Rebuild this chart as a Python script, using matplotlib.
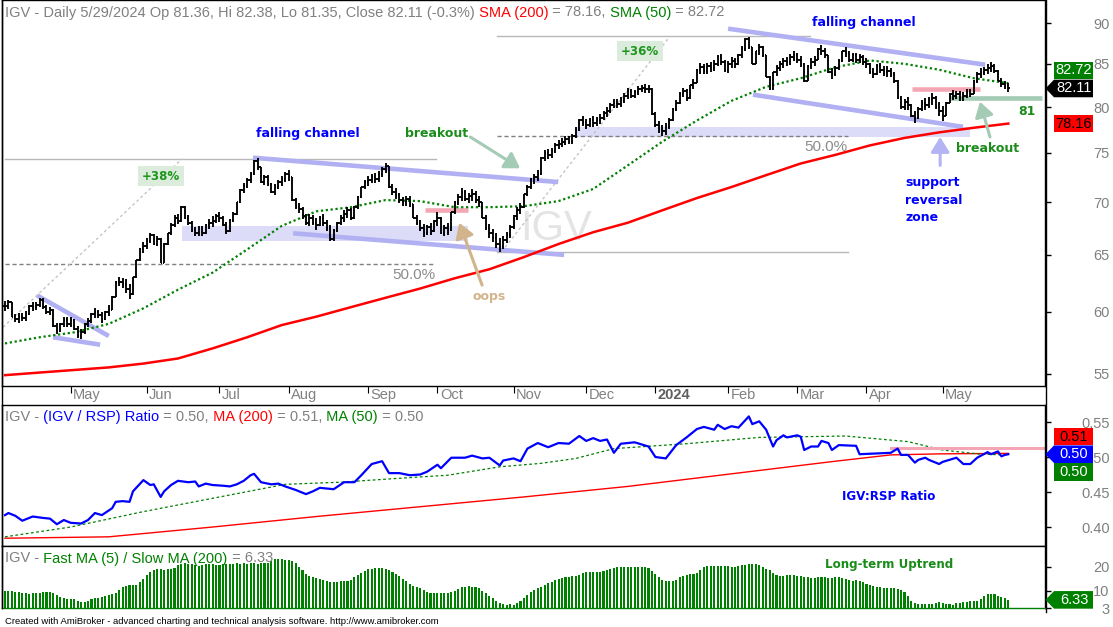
import numpy as np
import pandas as pd
import matplotlib
matplotlib.use("Agg")
import matplotlib.pyplot as plt
import matplotlib.transforms as mtransforms
from matplotlib.collections import LineCollection
from matplotlib.lines import Line2D
from matplotlib.patches import Polygon, Rectangle

########## DATA ##########

holidays = ["2023-04-07", "2023-05-29", "2023-06-19", "2023-07-04", "2023-09-04",
            "2023-11-23", "2023-12-25", "2024-01-01", "2024-01-15", "2024-02-19",
            "2024-03-29", "2024-05-27"]

# daily closes, one row per month (Apr 2023 .. May 2024)
closes = [
    60.5, 60.8, 59.6, 59.4, 59.6, 59.5, 59.8, 60.5, 60.4, 60.6, 61.0, 60.4, 60.0, 60.2, 58.8, 58.4, 59.0, 59.3, 59.0,
    59.3, 58.6, 58.0, 58.3, 59.0, 59.2, 59.8, 60.0, 59.7, 59.4, 60.0, 60.2, 61.3, 62.6, 62.6, 62.4, 62.0, 61.5, 63.0, 64.5, 65.5, 65.8,
    66.3, 66.8, 66.0, 66.5, 64.3, 66.0, 67.0, 67.8, 68.5, 68.2, 69.5, 68.5, 68.0, 67.3, 67.0, 67.4, 67.0, 67.8, 68.0, 68.2, 68.6,
    68.5, 67.8, 67.2, 68.3, 68.8, 70.0, 71.2, 71.6, 72.2, 72.8, 74.2, 73.5, 72.0, 72.5, 71.8, 71.0, 71.5, 72.0, 72.3, 72.8,
    72.5, 70.2, 69.5, 69.3, 68.6, 68.0, 68.5, 68.0, 67.8, 68.5, 68.0, 67.5, 66.5, 67.2, 68.0, 68.5, 68.8, 69.2, 68.5, 69.5, 70.5, 71.5, 72.0,
    72.2, 72.5, 72.3, 72.8, 73.3, 73.6, 71.5, 71.0, 70.7, 70.2, 70.0, 70.3, 69.8, 68.5, 68.0, 67.5, 67.0, 67.6, 67.2, 68.2,
    68.5, 67.0, 67.5, 67.3, 69.0, 70.0, 70.5, 71.0, 70.3, 70.6, 70.8, 70.2, 70.0, 68.5, 67.5, 67.0, 66.6, 66.0, 65.8, 66.4, 66.8, 67.6,
    68.6, 69.2, 69.5, 70.8, 71.5, 72.2, 72.5, 72.8, 74.5, 75.0, 74.8, 75.2, 75.8, 76.0, 76.2, 76.5, 76.2, 76.8, 77.5, 78.5, 78.3,
    78.0, 78.5, 78.2, 78.6, 78.8, 79.3, 79.6, 80.2, 80.5, 80.3, 80.8, 81.3, 81.8, 81.2, 81.7, 82.0, 82.2, 82.0, 82.1, 79.2,
    78.0, 77.6, 77.3, 77.8, 78.5, 79.8, 80.5, 81.5, 81.8, 81.0, 82.5, 82.8, 84.3, 84.6, 84.2, 84.8, 84.5, 85.0, 85.8, 85.2, 84.3,
    85.0, 85.3, 85.0, 86.0, 86.8, 88.0, 87.0, 85.0, 86.5, 87.0, 86.0, 83.5, 82.0, 84.0, 84.5, 85.0, 85.3, 85.2, 85.8, 86.0,
    85.5, 85.0, 83.0, 84.8, 85.2, 85.5, 86.8, 86.5, 86.0, 84.0, 83.8, 84.5, 85.3, 86.5, 86.3, 85.5, 86.0, 85.5, 85.8, 85.2,
    85.0, 84.0, 83.8, 84.8, 84.3, 84.0, 84.2, 83.8, 83.0, 81.0, 80.0, 80.6, 80.2, 79.0, 78.8, 79.8, 80.5, 80.2, 80.8, 81.0, 80.0, 79.5,
    79.0, 80.5, 81.5, 81.2, 81.5, 81.0, 81.3, 81.7, 81.5, 83.0, 83.8, 84.0, 84.3, 84.5, 84.7, 84.2, 83.0, 82.6, 82.4, 82.11,
]

# high - low of each bar
spreads = [
    0.9, 0.8, 1.0, 0.7, 0.8, 0.7, 0.8, 0.9, 0.8, 0.7, 0.8, 0.9, 0.8, 0.7, 1.1, 0.9, 0.8, 0.9, 0.8,
    0.8, 0.9, 1.0, 0.8, 0.9, 0.7, 0.8, 0.8, 0.7, 0.9, 0.8, 0.9, 1.2, 1.0, 0.8, 0.9, 1.2, 1.3, 1.4, 1.3, 1.2, 1.0,
    1.0, 0.9, 1.0, 0.9, 1.8, 1.3, 1.0, 1.2, 1.1, 1.0, 1.5, 1.2, 1.0, 1.0, 0.9, 0.9, 0.9, 1.0, 0.9, 1.0, 0.9,
    0.9, 1.0, 1.1, 1.2, 1.0, 1.3, 1.2, 1.0, 1.0, 1.1, 1.4, 1.2, 1.3, 1.0, 1.1, 1.0, 1.1, 0.9, 1.0, 1.0,
    1.1, 1.6, 1.1, 1.0, 1.1, 1.0, 1.2, 1.0, 1.1, 1.0, 1.1, 1.0, 1.5, 1.1, 1.0, 1.0, 1.1, 1.0, 1.1, 1.2, 1.3, 1.1, 1.0,
    1.0, 0.9, 1.0, 1.1, 1.0, 1.0, 1.4, 1.1, 1.0, 1.0, 0.9, 1.0, 1.1, 1.2, 1.0, 1.1, 1.2, 1.0, 1.1, 1.2,
    1.3, 1.4, 1.1, 1.2, 1.6, 1.3, 1.1, 1.2, 1.1, 1.0, 1.1, 1.2, 1.1, 1.5, 1.4, 1.3, 1.2, 1.4, 1.3, 1.2, 1.1, 1.2,
    1.3, 1.2, 1.1, 1.3, 1.1, 1.2, 1.0, 1.1, 1.5, 1.2, 1.0, 1.0, 1.1, 0.9, 1.0, 1.0, 0.9, 1.0, 1.2, 1.3, 1.1,
    1.1, 1.0, 1.2, 1.0, 1.1, 1.0, 1.1, 1.2, 1.0, 1.1, 1.2, 1.1, 1.2, 1.0, 0.9, 1.0, 0.9, 1.0, 0.9, 1.9,
    1.6, 1.3, 1.2, 1.3, 1.2, 1.4, 1.2, 1.3, 1.1, 1.4, 1.3, 1.2, 1.6, 1.3, 1.2, 1.3, 1.2, 1.3, 1.4, 1.3, 1.5,
    1.4, 1.3, 1.2, 1.3, 1.4, 1.6, 1.5, 1.8, 1.5, 1.3, 1.4, 2.0, 1.6, 1.5, 1.3, 1.2, 1.2, 1.1, 1.3, 1.2,
    1.2, 1.3, 2.2, 1.5, 1.3, 1.2, 1.4, 1.3, 1.2, 1.6, 1.3, 1.2, 1.3, 1.4, 1.2, 1.3, 1.1, 1.2, 1.1, 1.2,
    1.2, 1.3, 1.2, 1.3, 1.2, 1.1, 1.2, 1.1, 1.3, 1.9, 1.4, 1.3, 1.4, 1.5, 1.4, 1.3, 1.2, 1.3, 1.2, 1.3, 1.4, 1.6,
    1.7, 1.4, 1.2, 1.1, 1.0, 1.1, 1.0, 1.0, 1.0, 1.3, 1.2, 1.1, 1.0, 1.1, 1.2, 1.1, 1.3, 1.0, 1.0, 1.03,
]

# moving averages, sampled every 10 bars
ma_days = [0, 10, 20, 30, 40, 50, 60, 70, 80, 90, 100, 110, 120, 130, 140,
           150, 160, 170, 180, 190, 200, 210, 220, 230, 240, 250, 260, 270, 280, 290]
sma200 = [54.9, 55.1, 55.3, 55.5, 55.8, 56.2, 57.0, 57.9, 58.9, 59.6, 60.4, 61.2, 62.0, 62.9, 63.7,
          64.8, 66.0, 67.1, 68.0, 69.2, 70.4, 71.5, 72.7, 73.9, 74.8, 75.8, 76.6, 77.2, 77.7, 78.16]
sma50 = [57.4, 57.9, 58.3, 59.0, 60.3, 61.9, 63.4, 65.5, 67.7, 69.1, 69.5, 70.2, 70.1, 69.5, 69.5,
         69.6, 70.1, 71.3, 73.7, 76.2, 78.5, 80.7, 82.3, 83.3, 84.6, 85.4, 85.0, 84.3, 83.3, 82.72]

# IGV / RSP ratio
ratio_days = [0, 1, 3, 5, 8, 11, 13, 15, 17, 19, 22, 24, 26, 28, 31, 32, 34, 36, 37, 40,
              42, 43, 45, 46, 48, 50, 53, 55, 56, 58, 60, 63, 65, 67, 69, 71, 72, 74, 77, 79,
              81, 84, 87, 89, 91, 95, 98, 101, 103, 106, 109, 111, 114, 117, 120, 122, 125, 126, 129, 133,
              135, 138, 140, 143, 144, 147, 149, 151, 154, 157, 160, 163, 166, 168, 170, 172, 174, 176, 178, 182,
              186, 188, 191, 194, 197, 200, 202, 205, 206, 208, 210, 212, 215, 216, 218, 220, 222, 223, 225, 226,
              229, 230, 231, 233, 235, 236, 238, 239, 241, 246, 247, 256, 258, 259, 261, 263, 264, 266, 267, 270,
              271, 275, 277, 279, 281, 284, 285, 287, 288, 289, 290]
ratio_vals = [0.417, 0.420, 0.416, 0.409, 0.415, 0.413, 0.412, 0.404, 0.410, 0.406, 0.405, 0.410, 0.420, 0.417, 0.427, 0.436, 0.437, 0.436, 0.451, 0.467,
              0.460, 0.461, 0.443, 0.451, 0.460, 0.466, 0.464, 0.465, 0.458, 0.462, 0.460, 0.459, 0.458, 0.461, 0.466, 0.474, 0.476, 0.464, 0.461, 0.462,
              0.458, 0.453, 0.447, 0.451, 0.456, 0.454, 0.464, 0.464, 0.474, 0.490, 0.494, 0.477, 0.477, 0.474, 0.475, 0.479, 0.489, 0.484, 0.499, 0.499,
              0.502, 0.498, 0.499, 0.488, 0.495, 0.498, 0.494, 0.512, 0.520, 0.514, 0.520, 0.519, 0.530, 0.523, 0.527, 0.523, 0.525, 0.506, 0.519, 0.521,
              0.515, 0.500, 0.498, 0.517, 0.528, 0.540, 0.543, 0.539, 0.546, 0.540, 0.544, 0.542, 0.558, 0.547, 0.551, 0.539, 0.515, 0.524, 0.531, 0.528,
              0.531, 0.529, 0.510, 0.515, 0.515, 0.523, 0.520, 0.510, 0.517, 0.516, 0.504, 0.506, 0.512, 0.503, 0.503, 0.492, 0.496, 0.499, 0.496, 0.490,
              0.493, 0.499, 0.490, 0.490, 0.499, 0.507, 0.504, 0.508, 0.501, 0.503, 0.504]
rma200_days = [0, 30, 60, 90, 120, 150, 180, 210, 240, 256, 270, 290]
rma200_vals = [0.384, 0.386, 0.400, 0.415, 0.429, 0.443, 0.458, 0.476, 0.494, 0.503, 0.5045, 0.5052]
rma50_days = [0, 19, 40, 60, 81, 86, 97, 112, 128, 143, 155, 165, 176, 197, 218, 243, 261, 271, 282, 290]
rma50_vals = [0.386, 0.400, 0.422, 0.441, 0.461, 0.462, 0.464, 0.469, 0.474, 0.486, 0.491, 0.498, 0.512, 0.519, 0.528, 0.530, 0.522, 0.510, 0.504, 0.503]

# Fast MA(5) / Slow MA(200), percent
fast_slow = [
    9.8, 9.9, 9.9, 9.7, 9.6, 9.2, 9.0, 8.9, 9.0, 9.1, 9.3, 9.5, 9.6, 9.5, 9.2, 8.2, 7.6, 7.0, 6.8,
    6.6, 6.5, 5.9, 5.6, 5.4, 5.7, 6.6, 7.0, 7.3, 7.4, 8.0, 8.5, 8.8, 9.3, 10.2, 11.5, 12.0, 12.3, 12.5, 12.6, 13.5, 15.0,
    16.5, 17.8, 18.5, 18.8, 18.9, 18.7, 18.8, 19.0, 19.2, 20.5, 21.2, 21.3, 21.2, 21.0, 20.6, 20.3, 20.5, 20.9, 21.1, 21.0, 20.6,
    20.8, 21.2, 21.2, 20.9, 21.1, 21.3, 21.2, 21.3, 21.2, 21.3, 21.3, 21.2, 21.3, 21.3, 21.3, 22.2, 23.0, 23.1, 23.0, 22.8,
    22.6, 22.3, 21.5, 20.0, 18.5, 17.0, 16.2, 15.8, 15.4, 15.0, 14.5, 14.2, 13.8, 13.6, 13.8, 14.0, 14.0, 14.1, 14.5, 15.5, 16.5, 17.4, 18.2,
    18.8, 19.0, 19.3, 19.4, 19.4, 19.0, 18.5, 17.8, 17.0, 16.0, 15.0, 14.0, 13.0, 12.2, 11.5, 11.0, 10.3, 9.5, 9.3, 9.2,
    9.3, 9.3, 9.2, 9.3, 9.4, 9.8, 10.8, 11.5, 11.8, 11.9, 11.8, 11.6, 11.0, 10.0, 9.0, 8.0, 7.0, 6.0, 5.0, 4.5, 4.2, 4.5,
    4.3, 5.0, 6.0, 7.2, 8.3, 9.4, 10.3, 11.0, 11.8, 12.5, 13.2, 13.8, 14.4, 15.0, 15.3, 15.6, 15.8, 16.0, 16.2, 16.6, 17.5,
    17.9, 17.9, 17.8, 17.9, 17.9, 18.2, 18.6, 18.9, 19.3, 19.6, 19.7, 19.8, 19.7, 19.6, 19.7, 19.8, 19.7, 19.6, 19.3, 18.0,
    16.8, 15.5, 14.6, 14.0, 13.9, 14.0, 14.3, 15.8, 16.3, 16.5, 16.8, 17.0, 17.5, 18.5, 20.0, 20.3, 20.3, 20.4, 20.3, 20.4, 20.2,
    20.3, 20.0, 19.8, 20.1, 20.5, 20.8, 21.1, 21.2, 21.0, 20.6, 20.0, 19.0, 18.4, 17.5, 16.6, 16.0, 16.3, 16.5, 16.6, 16.4,
    16.2, 16.0, 15.8, 15.5, 15.4, 15.4, 15.6, 15.8, 15.6, 15.4, 15.4, 15.5, 15.6, 15.4, 14.8, 14.3, 14.2, 14.3, 14.0, 13.5,
    13.0, 12.4, 12.0, 11.7, 11.5, 11.3, 11.2, 11.1, 11.0, 10.8, 10.5, 9.5, 8.0, 5.8, 5.0, 4.6, 4.5, 4.7, 4.8, 4.6, 5.0, 5.3,
    5.2, 4.8, 4.5, 4.4, 4.9, 5.1, 5.3, 5.6, 5.8, 5.7, 5.8, 6.5, 7.8, 8.6, 8.8, 8.6, 8.0, 7.4, 7.0, 6.33,
]

price_ticks = [55, 60, 65, 70, 75, 80, 85, 90]
ratio_ticks = [0.40, 0.45, 0.50, 0.55]
hist_ticks = [3, 10, 20]

########## STYLE ##########

W, H = 1113, 627
FONT = "Liberation Sans"
BOLD = "DejaVu Sans"
GRAY = "#808080"
GREEN = "#008000"
LAV = "#b0b0f2"
LAV_FILL = "#dcdcf8"
PINK = "#f4a6b4"
ARROW_GREEN = "#a3cbb5"
TAN = "#d2b48c"

plt.rcParams["font.family"] = [FONT, "DejaVu Sans"]


def pane(top_px, bot_px):
    # axes box from pixel rows of the 1113x627 picture
    return [2 / W, 1 - bot_px / H, 1043 / W, (bot_px - top_px) / H]


def right_ticks(ax, ticks, labels):
    ax.yaxis.tick_right()
    ax.set_yticks(ticks, labels)
    ax.yaxis.set_minor_locator(matplotlib.ticker.NullLocator())
    ax.tick_params(axis="y", direction="out", length=4, width=1, pad=42.5,
                   labelsize=10.5, labelcolor=GRAY)
    for lbl in ax.get_yticklabels():
        lbl.set_horizontalalignment("right")


def title_runs(ax, y_px, parts, size=10.5):
    # multi coloured title, each run glued to the end of the previous one
    t = ax.text(5 / W, 1 - y_px / H, parts[0][0], color=parts[0][1], fontsize=size,
                transform=ax.figure.transFigure, ha="left", va="bottom", family=FONT)
    for s, c in parts[1:]:
        t = ax.annotate(s, xy=(1, 0), xycoords=t, color=c, fontsize=size, ha="left",
                        va="bottom", family=FONT, annotation_clip=False)


def value_tag(ax, value, label, face, fg, shift=0.0, arrow=False):
    px = mtransforms.IdentityTransform()
    fig = ax.figure
    x0 = ax.transAxes.transform((1, 0))[0]
    y = ax.transData.transform((0, value))[1] + shift
    left, right, half = x0 + 9, x0 + 48, 8.8
    if arrow:
        pts = [(x0 + 0.5, y), (left, y + half), (right, y + half), (right, y - half), (left, y - half)]
    else:
        pts = [(left, y + half), (right, y + half), (right, y - half), (left, y - half)]
    fig.add_artist(Polygon(pts, closed=True, facecolor=face, edgecolor="none", transform=px, zorder=5))
    fig.text((left + right) / 2 + 0.5, y, label, transform=px, color=fg, fontsize=10.5,
             ha="center", va="center", family=FONT, zorder=6)


def note(ax, x, y, s, color, size=9, **kw):
    ax.text(x, y, s, color=color, fontsize=size, fontweight="bold", family=BOLD,
            ha=kw.pop("ha", "center"), va=kw.pop("va", "center"), zorder=6, **kw)


def arrow(ax, tail, tip, color):
    ax.annotate("", xy=tip, xytext=tail, zorder=6,
                arrowprops=dict(arrowstyle="-|>,head_length=0.45,head_width=0.28", color=color,
                                lw=2.2, shrinkA=0, shrinkB=0, mutation_scale=20))


def main():
    n = len(closes)
    days = pd.bdate_range("2023-04-03", "2024-05-29", freq="C", holidays=holidays)
    if not (len(days) == n == len(spreads) == len(fast_slow)):
        raise ValueError("length mismatch %d %d %d %d" % (len(days), n, len(spreads), len(fast_slow)))

    x = np.arange(n)
    c = np.array(closes)
    o = np.r_[c[0], c[:-1]]
    body_top = np.maximum(o, c)
    body_bot = np.minimum(o, c)
    wick = np.clip(np.array(spreads) - (body_top - body_bot), 0.1, None) / 2
    hi = body_top + wick
    lo = body_bot - wick

    month_start = [i for i in range(1, n) if days[i].month != days[i - 1].month]
    month_lbl = ["2024" if days[i].month == 1 else days[i].strftime("%b") for i in month_start]

    fig = plt.figure(figsize=(W / 100, H / 100), dpi=100)
    fig.patch.set_facecolor("white")

    ax1 = fig.add_axes(pane(0, 386))
    ax2 = fig.add_axes(pane(405, 546))
    ax3 = fig.add_axes(pane(546, 608))
    xlim = (-0.86, 300.6)

    ################# price pane #################
    ax1.set_yscale("log")
    ax1.set_xlim(*xlim)
    ax1.set_ylim(54.07, 92.97)
    right_ticks(ax1, price_ticks, [str(t) for t in price_ticks])
    ax1.set_xticks(month_start)
    ax1.tick_params(axis="x", direction="out", length=5, labelbottom=False)
    trans = ax1.get_xaxis_transform()
    for i, lbl in zip(month_start, month_lbl):
        bold = lbl == "2024"
        ax1.text(i + 0.7, -0.004, lbl, transform=trans, ha="left", va="top", fontsize=10.5,
                 color="#606060" if bold else GRAY, fontweight="bold" if bold else "normal")

    ax1.text(0.531, 0.407, "IGV", transform=ax1.transAxes, fontsize=30, color="#e4e4e4",
             ha="center", va="center", zorder=0.5)

    # zones and channels
    ax1.add_patch(Rectangle((51.2, 66.3), 82.6, 1.4, fc=LAV_FILL, ec="none", zorder=1))
    ax1.add_patch(Rectangle((164.8, 76.7), 114.2, 1.1, fc=LAV_FILL, ec="none", zorder=1))
    channel_lines = [((9.3, 61.4), (30.0, 58.0)), ((13.9, 57.9), (27.5, 57.3)),
                     ((71.7, 74.5), (159.9, 72.0)), ((83.3, 67.0), (161.6, 65.0)),
                     ((209.0, 89.3), (283.3, 84.9)), ((216.2, 81.4), (276.9, 77.8))]
    for a, b in channel_lines:
        ax1.plot([a[0], b[0]], [a[1], b[1]], color=LAV, lw=3.3, solid_capstyle="butt", zorder=2)
    ax1.plot([121.4, 133.8], [69.2, 69.2], color=PINK, lw=3.3, solid_capstyle="butt", zorder=2)
    ax1.plot([262.2, 281.9], [82.1, 82.1], color=PINK, lw=3.3, solid_capstyle="butt", zorder=2)
    ax1.plot([273.2, 299.8], [81.0, 81.0], color=ARROW_GREEN, lw=3.3, solid_capstyle="butt", zorder=2)

    # retracement tools
    ax1.plot([0, 124.5], [74.4, 74.4], color="#b8b8b8", lw=1, zorder=1.5)
    ax1.plot([0, 124.0], [64.15, 64.15], color="#808080", lw=1, ls=(0, (3, 2)), zorder=1.5)
    ax1.plot([-19.3, 51.2], [53.9, 74.4], color="#c4c4c4", lw=1, ls=(0, (2, 2)), zorder=1.5)
    ax1.plot([142.2, 232.7], [88.4, 88.4], color="#b8b8b8", lw=1, zorder=1.5)
    ax1.plot([142.2, 243.7], [65.3, 65.3], color="#b8b8b8", lw=1, zorder=1.5)
    ax1.plot([142.2, 243.7], [76.85, 76.85], color="#808080", lw=1, ls=(0, (3, 2)), zorder=1.5)
    ax1.plot([143.6, 192.3], [65.3, 88.4], color="#c4c4c4", lw=1, ls=(0, (2, 2)), zorder=1.5)
    for xe, lvl in [(124.5, 64.15), (243.5, 76.85)]:
        ax1.annotate("50.0%", xy=(xe, lvl), xytext=(0, -4), textcoords="offset pixels",
                     ha="right", va="top", fontsize=11, color="#8c8c8c", zorder=6)
    for xc, yc, s in [(45.1, 72.6, "+38%"), (183.6, 86.5, "+36%")]:
        ax1.text(xc, yc, s, ha="center", va="center", fontsize=8.6, color="#1e961e", family=BOLD,
                 fontweight="bold", zorder=6,
                 bbox=dict(boxstyle="square,pad=0.3", fc="#dcecdc", ec="none"))

    # moving averages
    ax1.plot(ma_days, sma200, color="red", lw=1.8, zorder=3)
    ax1.plot(ma_days, sma50, color=GREEN, lw=1.6, ls=(0, (1, 1.2)), zorder=3)

    # OHLC bars
    segs = []
    for i in range(n):
        segs.append([(x[i], lo[i]), (x[i], hi[i])])
        segs.append([(x[i] - 0.45, o[i]), (x[i], o[i])])
        segs.append([(x[i], c[i]), (x[i] + 0.45, c[i])])
    ax1.add_collection(LineCollection(segs, colors="black", linewidths=1.35, zorder=4))

    # notes
    note(ax1, 87.4, 77.1, "falling channel", "blue")
    note(ax1, 248.3, 90.1, "falling channel", "blue")
    note(ax1, 124.7, 77.1, "breakout", "#1a8c1a")
    note(ax1, 284.1, 75.5, "breakout", "#1a8c1a")
    note(ax1, 139.9, 61.3, "oops", TAN)
    note(ax1, 295.4, 79.55, "81", "#1a8c1a")
    note(ax1, 260.2, 70.2, "support\nreversal\nzone", "blue", ha="left", linespacing=1.45)
    arrow(ax1, (134.5, 76.7), (148.9, 73.4), ARROW_GREEN)
    arrow(ax1, (137.9, 62.3), (131.3, 68.0), TAN)
    arrow(ax1, (270.3, 73.7), (270.3, 76.7), "#b4b4f4")
    arrow(ax1, (284.7, 76.7), (281.8, 80.6), ARROW_GREEN)

    title_runs(ax1, 19.5, [("IGV - Daily 5/29/2024 Op 81.36, Hi 82.38, Lo 81.35, Close 82.11 (-0.3%)", GRAY),
                           (" SMA (200)", "red"), (" = 78.16,", GRAY),
                           (" SMA (50)", GREEN), (" = 82.72", GRAY)])

    ################# ratio pane #################
    ax2.set_xlim(*xlim)
    ax2.set_ylim(0.3729, 0.5743)
    ax2.set_xticks([])
    right_ticks(ax2, ratio_ticks, ["%.2f" % t for t in ratio_ticks])
    ax2.plot(rma200_days, rma200_vals, color="red", lw=1.0, zorder=2)
    ax2.plot(rma50_days, rma50_vals, color=GREEN, lw=0.9, ls=(0, (2.2, 2)), zorder=2)
    ax2.plot([256.1, 300.3], [0.513, 0.513], color=PINK, lw=2.2, zorder=2)
    ax2.plot(ratio_days, ratio_vals, color="blue", lw=1.6, zorder=3)
    note(ax2, 255.5, 0.443, "IGV:RSP Ratio", "blue", size=8.6)
    title_runs(ax2, 424, [("IGV -", GRAY), (" (IGV / RSP) Ratio", "blue"), (" = 0.50,", GRAY),
                          (" MA (200)", "red"), (" = 0.51,", GRAY), (" MA (50)", GREEN),
                          (" = 0.50", GRAY)])

    ################# fast / slow pane #################
    ax3.set_xlim(*xlim)
    ax3.set_ylim(3, 28.4)
    ax3.set_xticks([])
    right_ticks(ax3, hist_ticks, [str(t) for t in hist_ticks])
    ax3.bar(x, np.array(fast_slow) - 3, bottom=3, width=0.6, color=GREEN, linewidth=0)
    ax3.spines["bottom"].set_color(GREEN)
    note(ax3, 255.5, 20.9, "Long-term Uptrend", "#1a8c1a", size=8.6)
    title_runs(ax3, 565.5, [("IGV -", GRAY), (" Fast MA (5) / Slow MA (200)", GREEN), (" = 6.33", GRAY)])

    for ax in (ax1, ax2, ax3):
        for sp in ax.spines.values():
            sp.set_linewidth(1)

    # frame lines running through the gaps between panes
    fig.add_artist(Line2D([1045.5 / W] * 2, [1 - 612 / H, 1], color="black", lw=1))
    fig.add_artist(Line2D([2 / W] * 2, [1 - 608 / H, 1], color="black", lw=1))

    # last value tags on the right axis
    value_tag(ax1, closes[-1], "82.11", "black", "white", arrow=True)
    value_tag(ax1, closes[-1], "82.72", GREEN, "white", shift=18)
    value_tag(ax1, sma200[-1], "78.16", "red", "black")
    value_tag(ax2, ratio_vals[-1], "0.50", "blue", "white", arrow=True)
    value_tag(ax2, ratio_vals[-1], "0.51", "red", "black", shift=17.6)
    value_tag(ax2, ratio_vals[-1], "0.50", GREEN, "white", shift=-17.6)
    value_tag(ax3, fast_slow[-1], "6.33", GREEN, "white", arrow=True)

    fig.text(5 / W, 1 - 621 / H, "Created with AmiBroker - advanced charting and technical analysis "
             "software. http://www.amibroker.com", fontsize=6.8, color="black", va="center")

    fig.savefig("out.png", dpi=100)
    plt.close(fig)


if __name__ == "__main__":
    main()
